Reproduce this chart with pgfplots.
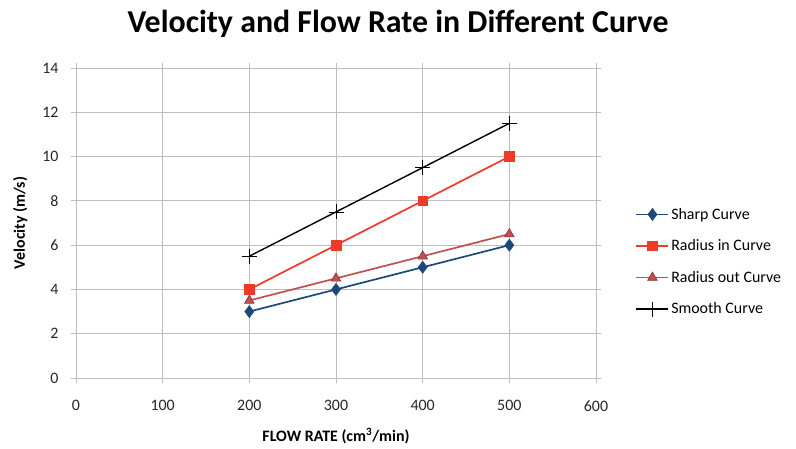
\documentclass[border=0pt]{standalone}
\usepackage{pgfplots}
\pgfplotsset{compat=1.18}
\usepackage{fontspec}
\setmainfont{Carlito}
\definecolor{sharp}{RGB}{28,72,122}
\definecolor{rin}{RGB}{238,58,40}
\definecolor{rout}{RGB}{192,80,77}
\definecolor{routedge}{RGB}{140,50,48}
\definecolor{gridc}{RGB}{190,190,190}
\begin{document}
\begin{tikzpicture}[x=1bp,y=1bp]
\path[use as bounding box] (-76,-71) rectangle (720,378);
\begin{axis}[
  at={(0,0)}, anchor=south west,
  scale only axis, width=520bp, height=310bp,
  xmin=0, xmax=600, ymin=0, ymax=14,
  xtick={0,100,...,600}, ytick={0,2,...,14},
  grid=major, grid style={gridc, line width=0.8pt},
  axis line style={gridc, line width=0.8pt},
  tick style={gridc, line width=0.8pt},
  tick align=outside, major tick length=5bp,
  tick label style={font=\fontsize{16}{18}\selectfont, text=black!85},
  /pgf/number format/assume math mode=true,
  xticklabel style={yshift=-14bp},
  yticklabel style={xshift=-9bp},
  xlabel={\textbf{FLOW RATE (cm\textsuperscript{3}/min)}},
  ylabel={\textbf{Velocity (m/s)}},
  label style={font=\fontsize{16}{18}\selectfont},
  xlabel style={yshift=-10bp},
  ylabel style={yshift=8bp},
  legend style={draw=none, fill=none, at={(1.07,0.375)}, anchor=west,
    font=\fontsize{16}{18}\selectfont, row sep=15bp, cells={anchor=west},
    /tikz/every even column/.append style={column sep=0bp}},
  legend image code/.code={\draw[#1] (0bp,0bp) -- (32bp,0bp); \draw[#1] plot coordinates {(16bp,0bp)};},
  clip=false,
]
\addplot[sharp, line width=1.7pt, mark=diamond*, mark size=6bp, mark options={fill=sharp, draw=sharp, line width=0.6pt}] coordinates {(200,3) (300,4) (400,5) (500,6)};
\addlegendentry{Sharp Curve}
\addplot[rin, line width=1.7pt, mark=square*, mark size=4.8bp, mark options={fill=rin, draw=rin, line width=0.6pt}] coordinates {(200,4) (300,6) (400,8) (500,10)};
\addlegendentry{Radius in Curve}
\addplot[rout, line width=1.7pt, mark=triangle*, mark size=5.5bp, mark options={fill=rout, draw=routedge, line width=0.6pt}] coordinates {(200,3.5) (300,4.5) (400,5.5) (500,6.5)};
\addlegendentry{Radius out Curve}
\addplot[black, line width=1.4pt, mark=+, mark size=7.5bp, mark options={line width=0.8pt}] coordinates {(200,5.5) (300,7.5) (400,9.5) (500,11.5)};
\addlegendentry{Smooth Curve}
\end{axis}
\node[font=\fontsize{32}{36}\selectfont\bfseries] at (322,354) {Velocity and Flow Rate in Different Curve};
\end{tikzpicture}
\end{document}
